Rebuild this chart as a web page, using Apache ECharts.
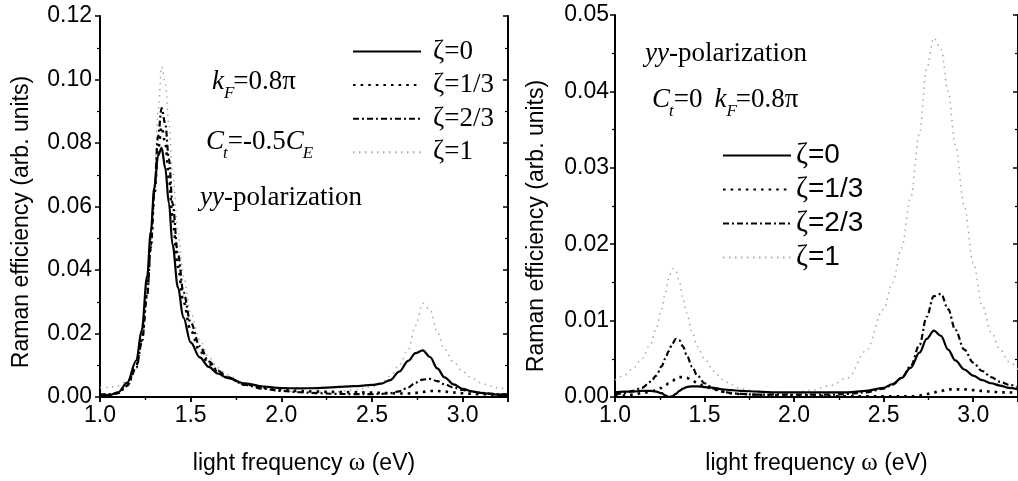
<!DOCTYPE html>
<html><head><meta charset="utf-8">
<script src="https://cdn.jsdelivr.net/npm/echarts@6/dist/echarts.min.js"></script>
<style>html,body{margin:0;padding:0;background:#fff}#c{width:1018px;height:481px}</style>
</head><body><div id="c"></div>
<script>
// ---- data ----
const omega = [1.0,1.05,1.1,1.15,1.2, 1.23,1.26,1.28,1.3,1.32, 1.34,1.36,1.38,1.4,1.43, 1.46,1.5,1.55,1.6,1.65,
  1.7,1.8,1.9,2.0,2.1, 2.2,2.3,2.4,2.5,2.55, 2.6,2.65,2.7,2.74,2.78, 2.82,2.86,2.9,2.95,3.0, 3.05,3.1,3.15,3.2,3.25];
const seriesNames = ['ζ=0','ζ=1/3','ζ=2/3','ζ=1'];
// left panel: Ct=-0.5CE, kF=0.8π
const leftZeta0 = [0.0003,0.0006,0.0015,0.0045,0.0115, 0.0210,0.0380,0.0520,0.0660,0.0760, 0.0785,0.0720,0.0610,0.0480,0.0345,
  0.0250,0.0172,0.0125,0.0095,0.0074, 0.0060,0.0043,0.0033,0.0028,0.0027, 0.0028,0.0031,0.0034,0.0038,0.0042,
  0.0053,0.0080,0.0114,0.0138,0.0147, 0.0126,0.0090,0.0062,0.0040,0.0026, 0.0018,0.0013,0.0010,0.0007,0.0006];
const leftZeta13 = [0.0005,0.0007,0.0013,0.0040,0.0100, 0.0180,0.0330,0.0480,0.0640,0.0780, 0.0850,0.0800,0.0690,0.0560,0.0410,
  0.0300,0.0210,0.0145,0.0105,0.0080, 0.0062,0.0040,0.0029,0.0022,0.0019, 0.0017,0.0016,0.0015,0.0014,0.0013,
  0.0012,0.0011,0.0011,0.0013,0.0016, 0.0019,0.0019,0.0017,0.0014,0.0012, 0.0010,0.0009,0.0008,0.0007,0.0006];
const leftZeta23 = [0.0008,0.0008,0.0012,0.0035,0.0092, 0.0170,0.0320,0.0470,0.0650,0.0820, 0.0910,0.0860,0.0750,0.0610,0.0450,
  0.0330,0.0235,0.0160,0.0112,0.0083, 0.0063,0.0038,0.0026,0.0019,0.0015, 0.0012,0.0010,0.0009,0.0009,0.0010,
  0.0012,0.0018,0.0030,0.0045,0.0055, 0.0057,0.0050,0.0040,0.0030,0.0022, 0.0017,0.0013,0.0011,0.0009,0.0008];
const leftZeta1 = [0.0030,0.0030,0.0035,0.0052,0.0100, 0.0170,0.0320,0.0480,0.0680,0.0900, 0.1040,0.0990,0.0860,0.0710,0.0520,
  0.0380,0.0265,0.0180,0.0125,0.0092, 0.0070,0.0042,0.0028,0.0020,0.0016, 0.0015,0.0016,0.0022,0.0032,0.0045,
  0.0065,0.0100,0.0150,0.0225,0.0295, 0.0275,0.0205,0.0150,0.0110,0.0080, 0.0060,0.0045,0.0035,0.0028,0.0025];
// right panel: Ct=0, kF=0.8π
const rightZeta0 = [0.0006,0.0007,0.0007,0.0008,0.0008, 0.0007,0.0005,0.0002,0.0000,0.0001, 0.0004,0.0008,0.0011,0.0013,0.0014,
  0.0014,0.0013,0.0012,0.0010,0.0009, 0.0008,0.0007,0.0006,0.0006,0.0006, 0.0006,0.0006,0.0008,0.0012,0.0017,
  0.0025,0.0038,0.0058,0.0076,0.0087, 0.0080,0.0062,0.0048,0.0036,0.0028, 0.0022,0.0018,0.0015,0.0012,0.0010];
const rightZeta13 = [0.0001,0.0002,0.0003,0.0005,0.0007, 0.0009,0.0012,0.0015,0.0018,0.0021, 0.0024,0.0026,0.0026,0.0025,0.0022,
  0.0018,0.0014,0.0010,0.0007,0.0005, 0.0004,0.0003,0.0002,0.0002,0.0002, 0.0001,0.0001,0.0001,0.0001,0.0001,
  0.0001,0.0001,0.0002,0.0004,0.0006, 0.0008,0.0010,0.0010,0.0010,0.0009, 0.0008,0.0007,0.0006,0.0006,0.0005];
const rightZeta23 = [0.0003,0.0005,0.0008,0.0012,0.0020, 0.0028,0.0040,0.0050,0.0060,0.0070, 0.0076,0.0074,0.0066,0.0055,0.0040,
  0.0028,0.0018,0.0011,0.0007,0.0005, 0.0004,0.0003,0.0003,0.0003,0.0003, 0.0003,0.0004,0.0006,0.0011,0.0016,
  0.0025,0.0040,0.0068,0.0105,0.0132, 0.0135,0.0115,0.0088,0.0062,0.0045, 0.0034,0.0026,0.0020,0.0016,0.0013];
const rightZeta1 = [0.0022,0.0028,0.0037,0.0050,0.0070, 0.0090,0.0115,0.0135,0.0155,0.0168, 0.0165,0.0150,0.0128,0.0110,0.0085,
  0.0066,0.0050,0.0034,0.0023,0.0016, 0.0011,0.0007,0.0005,0.0006,0.0009, 0.0015,0.0025,0.0060,0.0115,0.0150,
  0.0195,0.0260,0.0345,0.0430,0.0470, 0.0455,0.0400,0.0330,0.0250,0.0175, 0.0120,0.0085,0.0062,0.0046,0.0036];
const xTicksMin = 1.0, xTicksMax = 3.25, xTickStep = 0.5;
const leftYMax = 0.12, leftYStep = 0.02;
const rightYMax = 0.05, rightYStep = 0.01;

// ---- styles ----
const lineStyles = [
  {color:'#000', width:2.2, type:'solid'},
  {color:'#000', width:2.6, type:[2.6,5]},
  {color:'#000', width:2.2, type:[6,3,2,3]},
  {color:'#a8a8a8', width:1.5, type:[1.5,4.5]}
];
const sans = 'Liberation Sans, Arial, sans-serif';
const serif = 'Liberation Serif, Times New Roman, serif';

function xAxes(gi){
  return [
    {gridIndex:gi, type:'value', min:xTicksMin, max:xTicksMax, interval:xTickStep, position:'bottom',
     axisLine:{lineStyle:{color:'#000',width:2}}, axisTick:{inside:false,length:5,lineStyle:{color:'#000',width:1.5}},
     minorTick:{show:true,splitNumber:2,length:3,lineStyle:{color:'#000',width:1.2}},
     splitLine:{show:false},
     axisLabel:{color:'#000',fontSize:23,fontFamily:sans,margin:7,showMaxLabel:false,formatter:v=>v.toFixed(1)},
     name:'light frequency {w|ω} (eV)', nameLocation:'middle', nameGap:54,
     nameTextStyle:{color:'#000',fontSize:23,fontFamily:sans,rich:{w:{fontFamily:serif,fontSize:25,color:'#000'}}}},
    {gridIndex:gi, type:'value', min:xTicksMin, max:xTicksMax, interval:xTickStep, position:'top',
     axisLine:{lineStyle:{color:'#000',width:2}}, axisTick:{inside:true,length:5,lineStyle:{color:'#000',width:1.5}},
     minorTick:{show:true,splitNumber:2,length:3,lineStyle:{color:'#000',width:1.2}},
     splitLine:{show:false}, axisLabel:{show:false}}
  ];
}
function yAxes(gi,max,step,margin){
  return [
    {gridIndex:gi, type:'value', min:0, max:max, interval:step, position:'left',
     axisLine:{show:true,lineStyle:{color:'#000',width:2}}, axisTick:{show:true,inside:false,length:5,lineStyle:{color:'#000',width:1.5}},
     minorTick:{show:true,splitNumber:2,length:3,lineStyle:{color:'#000',width:1.2}},
     splitLine:{show:false},
     axisLabel:{color:'#000',fontSize:23,fontFamily:sans,margin:margin,formatter:v=>v.toFixed(2)}},
    {gridIndex:gi, type:'value', min:0, max:max, interval:step, position:'right',
     axisLine:{show:true,lineStyle:{color:'#000',width:2}}, axisTick:{show:true,inside:true,length:5,lineStyle:{color:'#000',width:1.5}},
     minorTick:{show:true,splitNumber:2,length:3,lineStyle:{color:'#000',width:1.2}},
     splitLine:{show:false}, axisLabel:{show:false}}
  ];
}
function mk(name, idx, xi, yi, vals){
  const ls = lineStyles[idx];
  return {name:name, type:'line', xAxisIndex:xi, yAxisIndex:yi, symbol:'none', smooth:0.35, smoothMonotone:'x',
    lineStyle:{color:ls.color,width:ls.width,type:ls.type}, itemStyle:{color:ls.color},
    data: omega.map((x,i)=>[x, vals[i]]), z: 10-idx};
}
const leftVals = [leftZeta0,leftZeta13,leftZeta23,leftZeta1];
const rightVals = [rightZeta0,rightZeta13,rightZeta23,rightZeta1];
const series = [];
seriesNames.forEach((n,i)=>series.push(mk(n,i,0,0,leftVals[i])));
seriesNames.forEach((n,i)=>series.push(mk(n,i,2,2,rightVals[i])));

// chained annotation text (main size 27, subscripts 17)
const mctx = document.createElement('canvas').getContext('2d');
function chain(x0, y, segs){
  const out = []; let x = x0;
  segs.forEach(s=>{
    if (s.gap) { x += s.gap; return; }
    const size = s.sub ? 17 : 27;
    const font = (s.it ? 'italic ' : '') + size + 'px ' + serif;
    out.push({type:'text', x:x, y:y + (s.sub ? 12 : 0), silent:true,
      style:{text:s.t, fill:'#000', font:font, textAlign:'left', textVerticalAlign:'middle'}});
    mctx.font = font; x += mctx.measureText(s.t).width - (s.kern||0);
  });
  return out;
}
const graphics = [
  {type:'text', x:22, y:222, rotation:Math.PI/2, silent:true,
   style:{text:'Raman efficiency (arb. units)', fill:'#000', font:'23px '+sans, textAlign:'center', textVerticalAlign:'middle'}},
  {type:'text', x:537, y:226, rotation:Math.PI/2, silent:true,
   style:{text:'Raman efficiency (arb. units)', fill:'#000', font:'23px '+sans, textAlign:'center', textVerticalAlign:'middle'}},
  ...chain(212, 82, [{t:'k',it:true},{t:'F',it:true,sub:true,kern:1},{t:'=0.8π'}]),
  ...chain(206, 142, [{t:'C',it:true,kern:1},{t:'t',it:true,sub:true},{t:'=-0.5'},{t:'C',it:true,kern:1},{t:'E',it:true,sub:true}]),
  ...chain(200, 198, [{t:'yy',it:true},{t:'-polarization'}]),
  ...chain(645, 54, [{t:'yy',it:true},{t:'-polarization'}]),
  ...chain(652, 100, [{t:'C',it:true,kern:1},{t:'t',it:true,sub:true},{t:'=0'},{gap:12},{t:'k',it:true},{t:'F',it:true,sub:true,kern:1},{t:'=0.8π'}])
];

const option = {
  animation:false,
  backgroundColor:'#fff',
  grid:[{left:100, top:16, width:408, height:384, containLabel:false},
        {left:615, top:15, width:408, height:386, containLabel:false}],
  xAxis:[...xAxes(0), ...xAxes(1)],
  yAxis:[...yAxes(0,leftYMax,leftYStep,8), ...yAxes(1,rightYMax,rightYStep,6)],
  legend:[
    {data:seriesNames, orient:'vertical', left:347, top:33, itemWidth:68, itemHeight:14, itemGap:6.6, selectedMode:false,
     itemStyle:{opacity:0},
     textStyle:{color:'#000',fontSize:27,fontFamily:serif,lineHeight:24,padding:[0,0,0,7]}},
    {data:seriesNames, orient:'vertical', left:717, top:136, itemWidth:68, itemHeight:14, itemGap:5, selectedMode:false,
     itemStyle:{opacity:0},
     formatter:n=>'{z|ζ}{t|'+n.slice(1)+'}',
     textStyle:{color:'#000',fontSize:28,lineHeight:24,padding:[0,0,0,0],
       rich:{z:{fontFamily:serif,fontSize:29,lineHeight:24,color:'#000'},t:{fontFamily:sans,fontSize:28,lineHeight:24,color:'#000'}}}}
  ],
  graphic:graphics,
  series:series
};
const chart = echarts.init(document.getElementById('c'), null, {renderer:'canvas'});
chart.setOption(option);
</script></body></html>
